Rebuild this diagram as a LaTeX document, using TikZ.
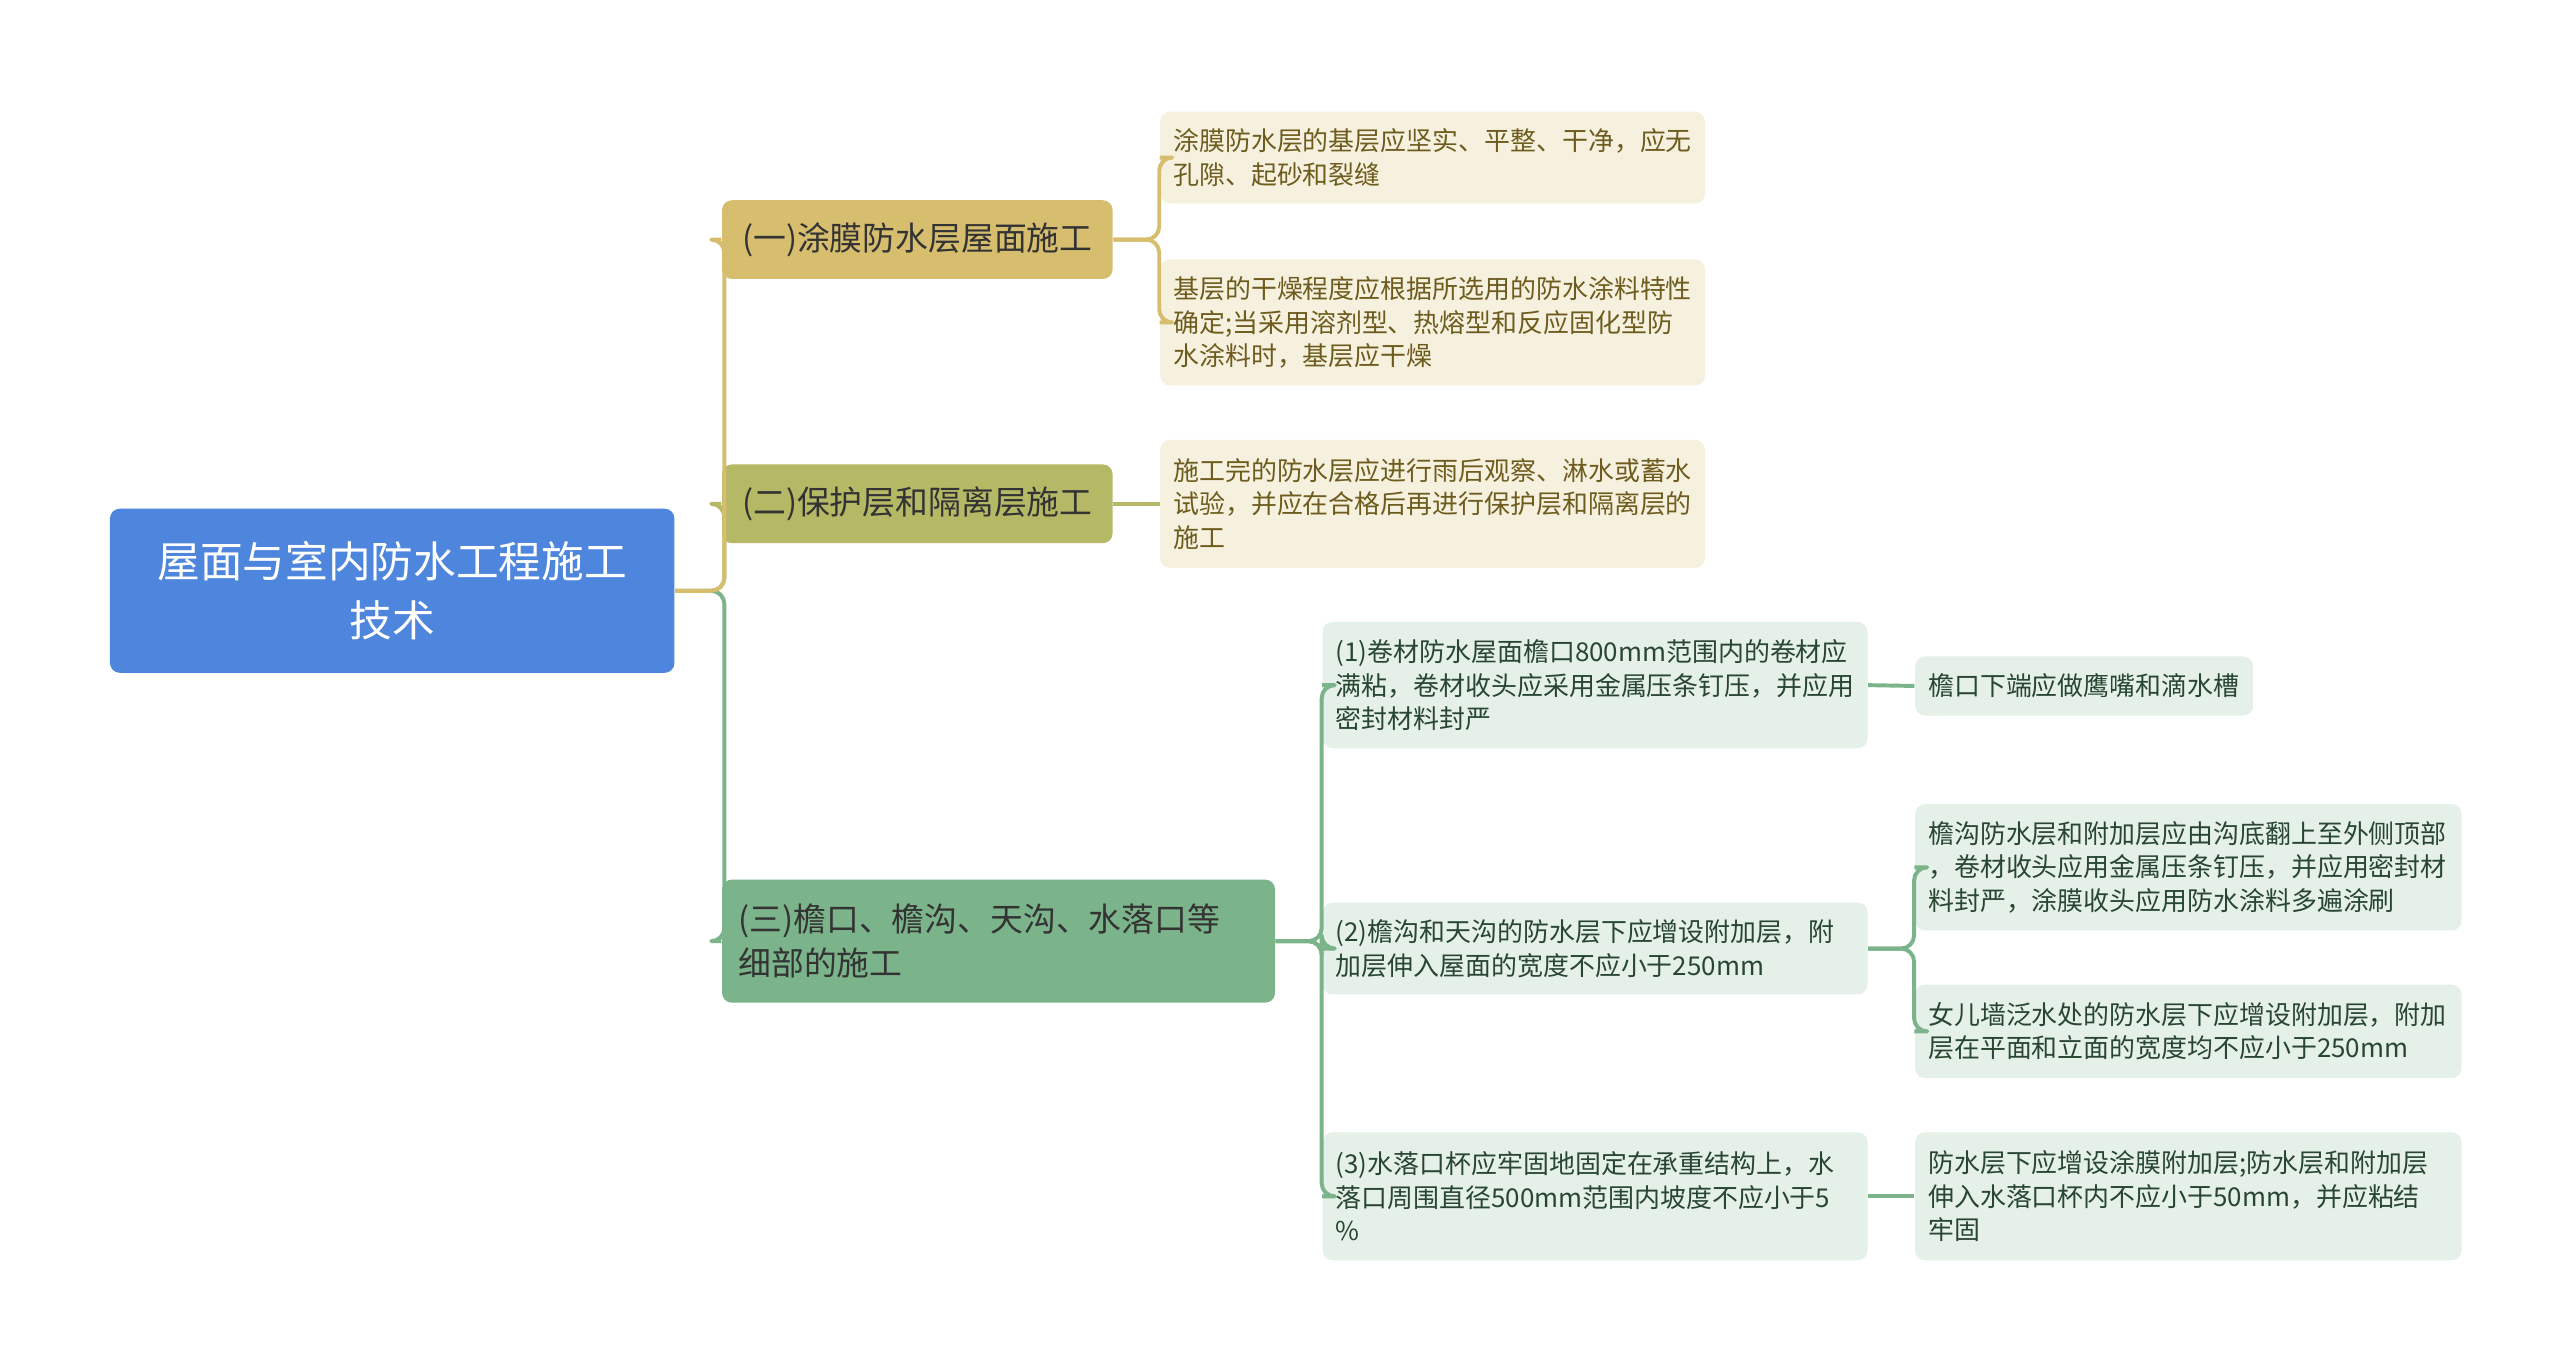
\documentclass[tikz,border=0pt]{standalone}
\usepackage{fontspec}
\setmainfont{Noto Sans CJK SC}
\begin{document}
\begin{tikzpicture}[x=0.5pt,y=-0.5pt,
 box/.style={rounded corners=3pt,inner sep=0pt,align=left},
 leaf/.style={box,inner xsep=4pt,font=\fontsize{7.9pt}{10.2pt}\selectfont},
 yl/.style={leaf,fill={rgb,255:red,246;green,241;blue,222},text={rgb,255:red,110;green,92;blue,30}},
 gl/.style={leaf,fill={rgb,255:red,229;green,240;blue,232},text={rgb,255:red,40;green,70;blue,50}},
 con/.style={line width=1.2pt,rounded corners=4pt,line join=round,line cap=butt},
 ycon/.style={con,draw={rgb,255:red,214;green,190;blue,110}},
 ocon/.style={con,draw={rgb,255:red,181;green,184;blue,101}},
 gcon/.style={con,draw={rgb,255:red,123;green,179;blue,138}}]
\useasboundingbox (0,0) rectangle (1560,832);
\node[box,fill={rgb,255:red,78;green,134;blue,221},text=white,minimum width=172pt,minimum height=50pt,align=center,font=\fontsize{13pt}{18pt}\selectfont] (root) at (239,360) {屋面与室内防水工程施工\\技术};
\node[box,fill={rgb,255:red,214;green,190;blue,110},text={rgb,255:red,51;green,51;blue,51},minimum width=119pt,minimum height=24pt,font=\fontsize{10pt}{13pt}\selectfont] (a) at (559,146) {(一)涂膜防水层屋面施工};
\node[box,fill={rgb,255:red,181;green,184;blue,101},text={rgb,255:red,51;green,51;blue,51},minimum width=119pt,minimum height=24pt,font=\fontsize{10pt}{13pt}\selectfont] (b) at (559,307) {(二)保护层和隔离层施工};
\node[box,inner xsep=5pt,fill={rgb,255:red,123;green,179;blue,138},text={rgb,255:red,51;green,51;blue,51},text width=158.5pt,minimum height=37.5pt,font=\fontsize{10pt}{13.3pt}\selectfont] (c) at (608.5,573.5) {(三)檐口、檐沟、天沟、水落口等\\细部的施工};
\node[yl,text width=158pt,minimum height=28pt] (a1) at (873,96) {涂膜防水层的基层应坚实、平整、干净，应无\\孔隙、起砂和裂缝};
\node[yl,text width=158pt,minimum height=38.5pt] (a2) at (873,196.5) {基层的干燥程度应根据所选用的防水涂料特性\\确定;当采用溶剂型、热熔型和反应固化型防\\水涂料时，基层应干燥};
\node[yl,text width=158pt,minimum height=39pt] (b1) at (873,307) {施工完的防水层应进行雨后观察、淋水或蓄水\\试验，并应在合格后再进行保护层和隔离层的\\施工};
\node[gl,text width=158pt,minimum height=38.5pt] (c1) at (972,417.5) {(1)卷材防水屋面檐口800mm范围内的卷材应\\满粘，卷材收头应采用金属压条钉压，并应用\\密封材料封严};
\node[gl,text width=158pt,minimum height=28pt] (c2) at (972,578) {(2)檐沟和天沟的防水层下应增设附加层，附\\加层伸入屋面的宽度不应小于250mm};
\node[gl,text width=158pt,minimum height=39pt] (c3) at (972,729) {(3)水落口杯应牢固地固定在承重结构上，水\\落口周围直径500mm范围内坡度不应小于5\\\%};
\node[gl,text width=95pt,minimum height=18pt] (d1) at (1270,418) {檐口下端应做鹰嘴和滴水槽};
\node[gl,text width=158.5pt,minimum height=38.5pt] (d2) at (1333.5,528.5) {檐沟防水层和附加层应由沟底翻上至外侧顶部\\，卷材收头应用金属压条钉压，并应用密封材\\料封严，涂膜收头应用防水涂料多遍涂刷};
\node[gl,text width=158.5pt,minimum height=28.5pt] (d3) at (1333.5,628.5) {女儿墙泛水处的防水层下应增设附加层，附加\\层在平面和立面的宽度均不应小于250mm};
\node[gl,text width=158.5pt,minimum height=39pt] (d4) at (1333.5,729) {防水层下应增设涂膜附加层;防水层和附加层\\伸入水落口杯内不应小于50mm，并应粘结\\牢固};
\coordinate (r) at ([xshift=15]root.east);
\draw[gcon] (root.east) -- (r) |- (c.west);
\draw[ocon] (root.east) -- (r) |- (b.west);
\draw[ycon] (root.east) -- (r) |- (a.west);
\coordinate (ra) at ([xshift=14]a.east);
\draw[ycon] (a.east) -- (ra) |- (a1.west);
\draw[ycon] (a.east) -- (ra) |- (a2.west);
\draw[ocon] (b.east) -- (b1.west);
\coordinate (rc) at ([xshift=14]c.east);
\draw[gcon] (c.east) -- (rc) |- (c1.west);
\draw[gcon] (c.east) -- (rc) |- (c2.west);
\draw[gcon] (c.east) -- (rc) |- (c3.west);
\draw[gcon] (c1.east) -- (d1.west);
\coordinate (r2) at ([xshift=14]c2.east);
\draw[gcon] (c2.east) -- (r2) |- (d2.west);
\draw[gcon] (c2.east) -- (r2) |- (d3.west);
\draw[gcon] (c3.east) -- (d4.west);
\end{tikzpicture}
\end{document}
